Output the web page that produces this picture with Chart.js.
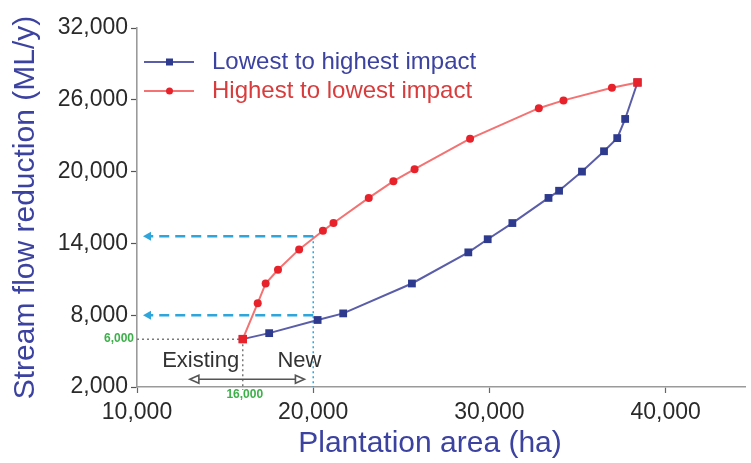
<!DOCTYPE html>
<html>
<head>
<meta charset="utf-8">
<script src="https://cdn.jsdelivr.net/npm/chart.js@4/dist/chart.umd.min.js"></script>
<style>
  html, body { margin: 0; padding: 0; background: #ffffff; }
  #wrap { width: 751px; height: 463px; position: relative; }
</style>
</head>
<body>
<div id="wrap"><canvas id="c"></canvas></div>
<script>
// Plantation expansion order: area (ha) vs stream flow reduction (ML/y)
const lowToHighArea = [16000, 17500, 20250, 21700, 25600, 28800, 29900, 31300, 33350, 33950, 35250, 36500, 37250, 37700, 38400];
const lowToHighFlow = [6000, 6500, 7600, 8150, 10650, 13250, 14350, 15700, 17800, 18400, 20000, 21700, 22800, 24400, 27450];
const highToLowArea = [16000, 16850, 17300, 18000, 19200, 20550, 21150, 23150, 24550, 25750, 28900, 32800, 34200, 36950, 38400];
const highToLowFlow = [6000, 9000, 10650, 11800, 13500, 15050, 15700, 17800, 19200, 20200, 22750, 25300, 25950, 27000, 27450];
const seriesNames = ['Lowest to highest impact', 'Highest to lowest impact'];

const xTicks = [10000, 20000, 30000, 40000];
const yTicks = [2000, 8000, 14000, 20000, 26000, 32000];
const xTitle = 'Plantation area (ha)';
const yTitle = 'Stream flow reduction (ML/y)';

// Reference points for the "existing" and "new" plantation guides
const existingArea = 16000, existingFlow = 6000;
const newArea = 20000;
const newFlowHigh = 14600, newFlowLow = 8000;
const existingLabel = 'Existing', newLabel = 'New';
const existingLabelArea = 15800, newLabelArea = 19220, labelFlow = 4150;
const spanFrom = 13000, spanTo = 19500, spanFlow = 2650;

const fmt = v => Number(v).toLocaleString('en-US');

const BLUE_LINE = '#5A5DA8', BLUE_PT = '#2D3A8E', BLUE_TXT = '#3C42A0';
const RED_LINE = '#F47272', RED_PT = '#E8222A', RED_TXT = '#D83C3C';
const GUIDE = '#2EA6DC';

const toPoints = (xs, ys) => xs.map((v, i) => ({ x: v, y: ys[i] }));

function arrowHead(ctx, tipX, tipY, dir, len, half, fill) {
  ctx.beginPath();
  ctx.moveTo(tipX, tipY);
  ctx.lineTo(tipX - dir * len, tipY - half);
  ctx.lineTo(tipX - dir * len, tipY + half);
  ctx.closePath();
  if (fill) ctx.fill(); else ctx.stroke();
}

const guides = {
  id: 'guides',
  beforeDatasetsDraw(chart) {
    const { ctx, chartArea, scales: { x, y } } = chart;
    const px = v => x.getPixelForValue(v), py = v => y.getPixelForValue(v);
    const left = chartArea.left, bottom = chartArea.bottom;
    ctx.save();
    // dotted guides to the existing estate
    ctx.strokeStyle = '#7a7a7a'; ctx.lineWidth = 1.5; ctx.setLineDash([2, 3]);
    ctx.beginPath();
    ctx.moveTo(left, py(existingFlow)); ctx.lineTo(px(existingArea), py(existingFlow));
    ctx.moveTo(px(existingArea), py(existingFlow)); ctx.lineTo(px(existingArea), bottom + 3);
    ctx.stroke();
    // dotted vertical at the new area
    ctx.strokeStyle = GUIDE;
    ctx.beginPath();
    ctx.moveTo(px(newArea), py(newFlowHigh)); ctx.lineTo(px(newArea), bottom);
    ctx.stroke();
    // dashed arrows back to the flow axis
    ctx.lineWidth = 2.6; ctx.fillStyle = GUIDE;
    for (const f of [newFlowHigh, newFlowLow]) {
      ctx.setLineDash([10, 6]);
      ctx.beginPath();
      ctx.moveTo(px(newArea), py(f)); ctx.lineTo(left + 14, py(f));
      ctx.stroke();
      ctx.setLineDash([]);
      arrowHead(ctx, left + 6, py(f), -1, 8, 4.5, true);
    }
    ctx.restore();
  },
  afterDraw(chart) {
    const { ctx, chartArea, scales: { x, y } } = chart;
    const px = v => x.getPixelForValue(v), py = v => y.getPixelForValue(v);
    ctx.save();
    // green value labels
    ctx.fillStyle = '#3DB04A';
    ctx.font = 'bold 12px "Liberation Sans", Arial, sans-serif';
    ctx.textBaseline = 'middle';
    ctx.textAlign = 'right';
    ctx.fillText(fmt(existingFlow), chartArea.left - 3, py(existingFlow));
    ctx.textAlign = 'center';
    ctx.fillText(fmt(existingArea), px(existingArea) + 2, chartArea.bottom + 8);

    // Existing / New labels
    ctx.fillStyle = '#333333';
    ctx.font = '22px "Liberation Sans", Arial, sans-serif';
    ctx.textAlign = 'right';
    ctx.fillText(existingLabel, px(existingLabelArea), py(labelFlow));
    ctx.textAlign = 'center';
    ctx.fillText(newLabel, px(newLabelArea), py(labelFlow));

    // double-headed span arrow
    const ay = py(spanFlow), a0 = px(spanFrom), a1 = px(spanTo);
    ctx.strokeStyle = '#555555'; ctx.lineWidth = 1.6;
    ctx.beginPath(); ctx.moveTo(a0 + 9, ay); ctx.lineTo(a1 - 9, ay); ctx.stroke();
    ctx.lineJoin = 'miter';
    arrowHead(ctx, a0, ay, -1, 9, 4, false);
    arrowHead(ctx, a1, ay, 1, 9, 4, false);

    // legend
    const rows = [
      { name: seriesNames[0], line: BLUE_LINE, pt: BLUE_PT, txt: BLUE_TXT, style: 'rect', y: 62 },
      { name: seriesNames[1], line: RED_LINE, pt: RED_PT, txt: RED_TXT, style: 'circle', y: 91 }
    ];
    ctx.font = '24px "Liberation Sans", Arial, sans-serif';
    ctx.textAlign = 'left';
    ctx.textBaseline = 'alphabetic';
    for (const r of rows) {
      ctx.strokeStyle = r.line; ctx.lineWidth = 2;
      ctx.beginPath(); ctx.moveTo(144, r.y); ctx.lineTo(194, r.y); ctx.stroke();
      ctx.fillStyle = r.pt;
      if (r.style === 'rect') ctx.fillRect(166, r.y - 3.5, 7, 7);
      else { ctx.beginPath(); ctx.arc(169.5, r.y, 3.5, 0, Math.PI * 2); ctx.fill(); }
      ctx.fillStyle = r.txt;
      ctx.fillText(r.name, 212, r.y + 7);
    }

    // axis titles
    ctx.fillStyle = BLUE_TXT;
    ctx.font = '30px "Liberation Sans", Arial, sans-serif';
    ctx.textAlign = 'center';
    ctx.textBaseline = 'alphabetic';
    ctx.fillText(xTitle, 430, 452);
    ctx.translate(34, (chartArea.top + chartArea.bottom) / 2);
    ctx.rotate(-Math.PI / 2);
    ctx.fillText(yTitle, 0, 0);
    ctx.restore();
  }
};

const tickFont = { family: '"Liberation Sans", Arial, sans-serif', size: 23 };

new Chart(document.getElementById('c'), {
  type: 'scatter',
  data: {
    datasets: [
      {
        label: seriesNames[0],
        data: toPoints(lowToHighArea, lowToHighFlow),
        showLine: true,
        borderColor: BLUE_LINE,
        borderWidth: 2,
        backgroundColor: BLUE_PT,
        pointBorderColor: BLUE_PT,
        pointBorderWidth: 0,
        pointStyle: 'rect',
        pointRadius: 5.5,
        order: 2
      },
      {
        label: seriesNames[1],
        data: toPoints(highToLowArea, highToLowFlow),
        showLine: true,
        borderColor: RED_LINE,
        borderWidth: 2,
        backgroundColor: RED_PT,
        pointBorderColor: RED_PT,
        pointBorderWidth: 0,
        pointStyle: ctx => (ctx.dataIndex === 0 || ctx.dataIndex === highToLowArea.length - 1) ? 'rect' : 'circle',
        pointRadius: ctx => (ctx.dataIndex === 0 || ctx.dataIndex === highToLowArea.length - 1) ? 6 : 4,
        order: 1
      }
    ]
  },
  options: {
    responsive: true,
    maintainAspectRatio: false,
    animation: false,
    events: [],
    layout: { padding: { top: 28, right: 0, bottom: 0, left: 0 } },
    plugins: { legend: { display: false }, tooltip: { enabled: false } },
    scales: {
      x: {
        type: 'linear',
        min: 10000,
        max: 44500,
        afterBuildTicks: s => { s.ticks = xTicks.map(v => ({ value: v })); },
        afterFit: s => { s.height = 76; },
        ticks: { font: tickFont, color: '#2a2a2a', padding: 6, maxRotation: 0, callback: v => fmt(v) },
        grid: { drawOnChartArea: false, drawTicks: true, tickLength: 6, tickColor: '#666666', tickWidth: 1.2 },
        border: { display: true, color: '#9a9a9a', width: 1.6 }
      },
      y: {
        type: 'linear',
        min: 2000,
        max: 32000,
        afterBuildTicks: s => { s.ticks = yTicks.map(v => ({ value: v })); },
        afterFit: s => { s.width = 137; },
        ticks: { font: tickFont, color: '#2a2a2a', padding: 3, callback: v => fmt(v) },
        grid: { drawOnChartArea: false, drawTicks: true, tickLength: 6, tickColor: '#555555', tickWidth: 1.2 },
        border: { display: true, color: '#9a9a9a', width: 1.6 }
      }
    }
  },
  plugins: [guides]
});
</script>
</body>
</html>
